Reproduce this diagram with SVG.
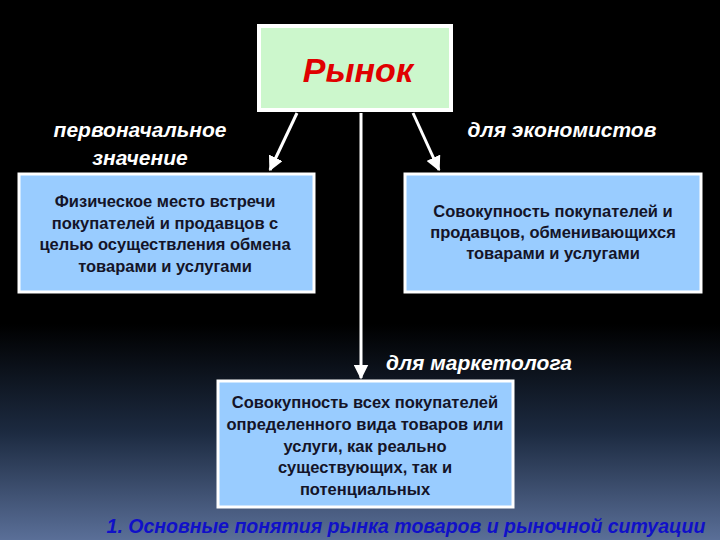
<svg xmlns="http://www.w3.org/2000/svg" width="720" height="540" viewBox="0 0 720 540">
<defs>
<linearGradient id="bg" x1="0" y1="0" x2="0" y2="1">
<stop offset="0" stop-color="#000000"/>
<stop offset="0.6" stop-color="#000000"/>
<stop offset="0.8" stop-color="#1c2a40"/>
<stop offset="1" stop-color="#5a6f98"/>
</linearGradient>
<marker id="ah" viewBox="0 0 10 10" refX="9" refY="5" markerWidth="5" markerHeight="5" orient="auto" markerUnits="strokeWidth">
<path d="M0,0 L10,5 L0,10 z" fill="#ffffff"/>
</marker>
<style>
.box{fill:#99ccff;stroke:#ffffff;stroke-width:3}
.top{fill:#ccf7cc;stroke:#ffffff;stroke-width:4}
.bt{font-family:"Liberation Sans",Arial,sans-serif;font-size:16.5px;font-weight:bold;fill:#141428;text-anchor:middle}
.lbl{font-family:"Liberation Sans",Arial,sans-serif;font-size:21px;font-weight:bold;font-style:italic;fill:#ffffff;text-anchor:middle}
.con{stroke:#ffffff;stroke-width:3;fill:none;marker-end:url(#ah)}
</style>
</defs>
<rect x="0" y="0" width="720" height="540" fill="url(#bg)"/>
<g id="connectors">
<line class="con" x1="297" y1="113" x2="270" y2="170"/>
<line class="con" x1="413" y1="113" x2="439" y2="170"/>
<line class="con" x1="361" y1="113" x2="361" y2="378"/>
</g>
<g id="n-market">
<rect class="top" x="259" y="26" width="192" height="84"/>
<text x="358" y="82" font-family="'Liberation Sans',Arial,sans-serif" font-size="34" font-weight="bold" font-style="italic" fill="#e00000" text-anchor="middle">Рынок</text>
</g>
<g id="n-physical">
<text class="lbl" x="140" y="137">первоначальное</text>
<text class="lbl" x="140" y="165">значение</text>
<rect class="box" x="19" y="174" width="295" height="118"/>
<text class="bt" x="165" y="207">Физическое место встречи</text>
<text class="bt" x="165" y="229">покупателей и продавцов с</text>
<text class="bt" x="165" y="250">целью осуществления обмена</text>
<text class="bt" x="165" y="272">товарами и услугами</text>
</g>
<g id="n-economists">
<text class="lbl" x="562" y="137">для экономистов</text>
<rect class="box" x="405" y="174" width="296" height="118"/>
<text class="bt" x="553" y="217">Совокупность покупателей и</text>
<text class="bt" x="553" y="238">продавцов, обменивающихся</text>
<text class="bt" x="553" y="259">товарами и услугами</text>
</g>
<g id="n-marketer">
<text class="lbl" x="479" y="370">для маркетолога</text>
<rect class="box" x="218" y="381" width="295" height="126"/>
<text class="bt" x="365" y="408">Совокупность всех покупателей</text>
<text class="bt" x="365" y="430">определенного вида товаров или</text>
<text class="bt" x="365" y="452">услуги, как реально</text>
<text class="bt" x="365" y="473">существующих, так и</text>
<text class="bt" x="365" y="495">потенциальных</text>
</g>
<text x="406" y="533" font-family="'Liberation Sans',Arial,sans-serif" font-size="19.5" font-weight="bold" font-style="italic" fill="#1010c8" text-anchor="middle">1. Основные понятия рынка товаров и рыночной ситуации</text>
</svg>
